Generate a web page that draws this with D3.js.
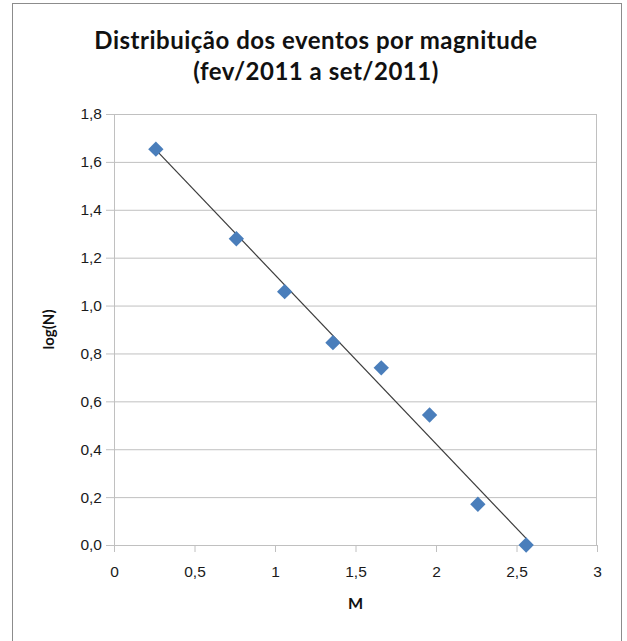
<!DOCTYPE html>
<html>
<head>
<meta charset="utf-8">
<script src="https://cdn.jsdelivr.net/npm/d3@7"></script>
<style>
  body { margin: 0; background: #fff; }
  svg { display: block; font-family: Lato, "Open Sans", sans-serif; }
</style>
</head>
<body>
<div id="chart"></div>
<script>
// --------------------------------------------------
// data

let magnitudes = [0.26, 0.76, 1.06, 1.36, 1.66, 1.96, 2.26, 2.56];
let logN = [1.653, 1.279, 1.058, 0.845, 0.740, 0.543, 0.170, 0.0];
let xTicks = [0, 0.5, 1, 1.5, 2, 2.5, 3];
let yTicks = [0, 0.2, 0.4, 0.6, 0.8, 1.0, 1.2, 1.4, 1.6, 1.8];
let titleLines = ['Distribuição dos eventos por magnitude', '(fev/2011 a set/2011)'];

// --------------------------------------------------

let width = 627, height = 641;
let plot = { left: 114, right: 597, top: 114, bottom: 545 };

let svg = d3.select('#chart')
  .append('svg')
  .attr('width', width)
  .attr('height', height);

// chart frame
svg.append('rect')
  .attr('x', 12.5)
  .attr('y', 3.5)
  .attr('width', 609)
  .attr('height', 660)
  .attr('fill', '#fff')
  .attr('stroke', '#8c8c8c');

let x = d3.scaleLinear().domain([0, 3]).range([plot.left, plot.right]);
let y = d3.scaleLinear().domain([0, 1.8]).range([plot.bottom, plot.top]);

let comma = d => d3.format('.1f')(d).replace('.', ',');

// horizontal gridlines + y axis
let yAxis = svg.append('g')
  .attr('transform', `translate(${plot.left},0)`)
  .call(d3.axisLeft(y)
    .tickValues(yTicks)
    .tickFormat(comma)
    .tickSize(-(plot.right - plot.left))
    .tickPadding(12));

yAxis.select('.domain').remove();
yAxis.selectAll('.tick line')
  .attr('x1', -8)
  .attr('stroke', '#c0c0c0');
yAxis.selectAll('.tick text')
  .attr('fill', '#1a1a1a')
  .style('font-size', '15.5px');

// x axis
let xAxis = svg.append('g')
  .attr('transform', `translate(0,${plot.bottom})`)
  .call(d3.axisBottom(x)
    .tickValues(xTicks)
    .tickFormat(d => String(d).replace('.', ','))
    .tickSize(7)
    .tickPadding(14));

xAxis.select('.domain').remove();
xAxis.selectAll('.tick line').attr('stroke', '#c0c0c0');
xAxis.selectAll('.tick text')
  .attr('fill', '#1a1a1a')
  .style('font-size', '15.5px');

// plot edges
svg.append('line')
  .attr('x1', plot.left + 0.5).attr('x2', plot.left + 0.5)
  .attr('y1', plot.top).attr('y2', plot.bottom)
  .attr('stroke', '#c0c0c0');
svg.append('line')
  .attr('x1', plot.right - 0.5).attr('x2', plot.right - 0.5)
  .attr('y1', plot.top).attr('y2', plot.bottom)
  .attr('stroke', '#c0c0c0');

// linear trend line (least squares over the points)
let mx = d3.mean(magnitudes), my = d3.mean(logN);
let slope = d3.sum(magnitudes, (m, i) => (m - mx) * (logN[i] - my)) /
  d3.sum(magnitudes, m => (m - mx) * (m - mx));
let fit = m => my + slope * (m - mx);
let ends = d3.extent(magnitudes);

svg.append('line')
  .attr('x1', x(ends[0])).attr('y1', y(fit(ends[0])))
  .attr('x2', x(ends[1])).attr('y2', y(fit(ends[1])))
  .attr('stroke', '#3c3c3c')
  .attr('stroke-width', 1.2);

// points
svg.append('g')
  .selectAll('path')
  .data(magnitudes)
  .enter()
  .append('path')
  .attr('d', d3.symbol(d3.symbolDiamond2, 150))
  .attr('transform', (m, i) => `translate(${x(m)},${y(logN[i])})`)
  .attr('fill', '#4a7ebb');

// titles
svg.append('g')
  .selectAll('text')
  .data(titleLines)
  .enter()
  .append('text')
  .attr('x', 316)
  .attr('y', (d, i) => 49 + i * 31)
  .attr('text-anchor', 'middle')
  .style('font-size', '24px')
  .style('letter-spacing', '0.5px')
  .style('font-weight', 'bold')
  .attr('fill', '#111')
  .text(d => d);

svg.append('text')
  .attr('x', x(1.5))
  .attr('y', 609)
  .attr('text-anchor', 'middle')
  .style('font-size', '16px')
  .style('font-weight', 'bold')
  .attr('fill', '#111')
  .text('M');

svg.append('text')
  .attr('transform', `translate(54,${(plot.top + plot.bottom) / 2}) rotate(-90)`)
  .attr('text-anchor', 'middle')
  .style('font-size', '15px')
  .style('font-weight', 'bold')
  .attr('fill', '#111')
  .text('log(N)');
</script>
</body>
</html>
